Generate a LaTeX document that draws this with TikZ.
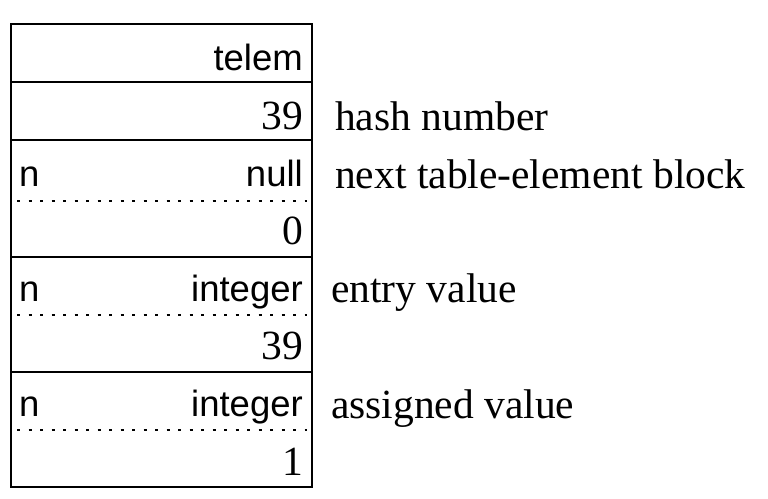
\documentclass[tikz,border=0pt]{standalone}
\usepackage{fontspec}
\setmainfont{Liberation Serif}
\newfontfamily\sansf{Liberation Sans}
\begin{document}
\begin{tikzpicture}[x=1pt,y=-1pt,
  frame/.style={line width=1.8pt},
  dotline/.style={line width=2.8pt, dash pattern=on 3pt off 8.5pt},
  sval/.style={anchor=base east, inner sep=0pt, font=\sansf\fontsize{36.5}{40}\selectfont},
  nval/.style={anchor=base east, inner sep=0pt, font=\fontsize{41.5}{44}\selectfont},
  nlab/.style={anchor=base west, inner sep=0pt, font=\sansf\fontsize{36.5}{40}\selectfont},
  desc/.style={anchor=base west, inner sep=0pt, font=\fontsize{41.5}{44}\selectfont}]
\useasboundingbox (0,0) rectangle (768,498);
% frame
\draw[frame] (11,24) rectangle (312,487);
\foreach \yy in {82,140,257,372} \draw[frame] (11,\yy) -- (312,\yy);
\foreach \yy in {201,315,430} \draw[dotline] (17,\yy) -- (307,\yy);
% cell contents
\node[sval] (telem) at (303,70) {telem};
\node[nval] (hash) at (303,129) {39};
\node[nlab] (n1) at (19,186) {n};
\node[sval] (null) at (303,186) {null};
\node[nval] (zero) at (303,244) {0};
\node[nlab] (n2) at (19,301) {n};
\node[sval] (int1) at (303,301) {integer};
\node[nval] (v39) at (303,359) {39};
\node[nlab] (n3) at (19,416) {n};
\node[sval] (int2) at (303,416) {integer};
\node[nval] (one) at (303,475) {1};
% descriptions
\node[desc] (dhash) at (335,130) {hash number};
\node[desc] (dnext) at (335,188) {next table-element block};
\node[desc] (dentry) at (331,302) {entry value};
\node[desc] (dassign) at (331,418) {assigned value};
\end{tikzpicture}
\end{document}
